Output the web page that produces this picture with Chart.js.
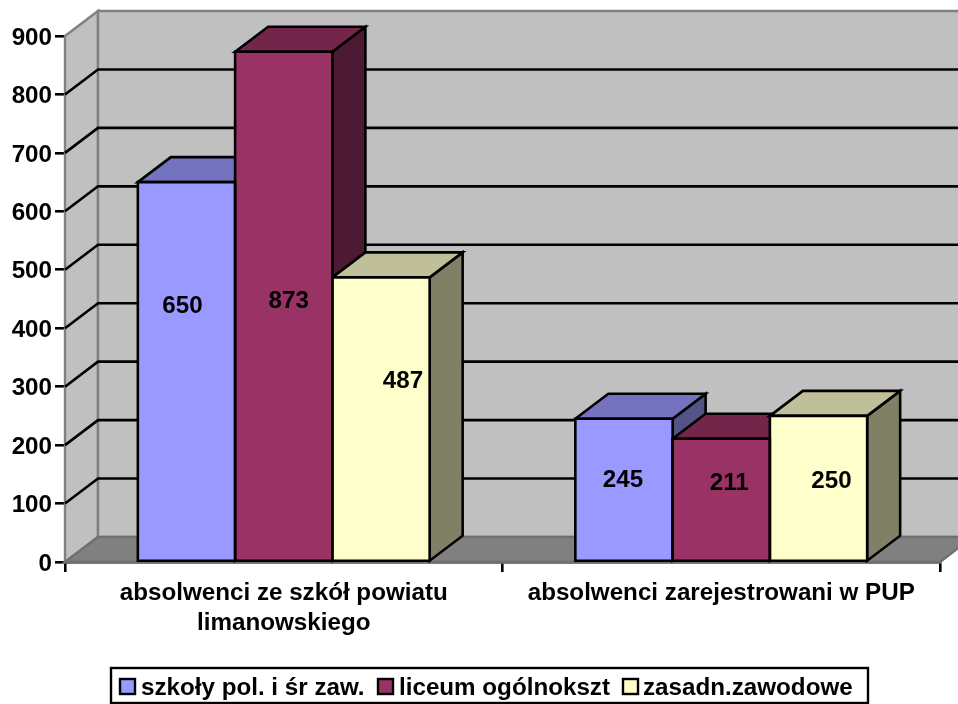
<!DOCTYPE html>
<html><head><meta charset="utf-8">
<style>html,body{margin:0;padding:0;background:#fff}#w{width:958px;height:704px;position:relative}</style>
<script src="https://cdn.jsdelivr.net/npm/chart.js@4"></script>
</head><body><div id="w"><canvas id="c" width="958" height="704"></canvas></div>
<script>
const categories = [["absolwenci ze szkół powiatu","limanowskiego"], "absolwenci zarejestrowani w PUP"];
const seriesNames = ["szkoły pol. i śr zaw.", "liceum ogólnokszt", "zasadn.zawodowe"];
const szkolyPol = [650, 245];
const liceum = [873, 211];
const zasadn = [487, 250];
const frontColors = ["#9999FF", "#993366", "#FFFFCC"];
const topColors = ["#7373BF", "#732649", "#BFBF99"];
const sideColors = ["#535385", "#4D1A33", "#808066"];
const labelOffsets = [[[-4, -65], [5, -5], [22, -38]], [[-1, -9], [8, -16], [13, -7]]];
const DX = 33, DY = -25, LINE = 2.6;
const FAMILY = '"Liberation Sans", Arial, sans-serif';
const SIZE = 24.2;
const FONT = 'bold ' + SIZE + 'px ' + FAMILY;

function poly(ctx, pts, fill, stroke, w) {
  ctx.beginPath();
  pts.forEach((p, i) => i ? ctx.lineTo(p[0], p[1]) : ctx.moveTo(p[0], p[1]));
  ctx.closePath();
  if (fill) { ctx.fillStyle = fill; ctx.fill(); }
  if (stroke) { ctx.strokeStyle = stroke; ctx.lineWidth = w; ctx.lineJoin = 'miter'; ctx.stroke(); }
}

const walls = {
  id: 'walls',
  beforeDatasetsDraw(chart) {
    const { ctx, chartArea: a, scales } = chart;
    const y = scales.y;
    ctx.save();
    poly(ctx, [[a.left, a.top], [a.left + DX, a.top + DY], [a.left + DX, a.bottom + DY], [a.left, a.bottom]], '#C0C0C0', '#808080', 2.4);
    poly(ctx, [[a.left + DX, a.top + DY], [a.right + DX, a.top + DY], [a.right + DX, a.bottom + DY], [a.left + DX, a.bottom + DY]], '#C0C0C0', '#808080', 2.4);
    poly(ctx, [[a.left, a.bottom], [a.left + DX, a.bottom + DY], [a.right + DX, a.bottom + DY], [a.right, a.bottom]], '#808080', '#707070', 2.4);
    ctx.strokeStyle = '#000'; ctx.lineWidth = LINE;
    y.ticks.forEach(t => {
      if (t.value === 0 || t.value === y.max) return;
      const py = y.getPixelForValue(t.value);
      ctx.beginPath();
      ctx.moveTo(a.left, py); ctx.lineTo(a.left + DX, py + DY); ctx.lineTo(a.right + DX, py + DY);
      ctx.stroke();
    });
    // side and top faces, painted left to right; the library then paints the fronts
    chart.data.labels.forEach((_, j) => {
      chart.data.datasets.forEach((ds, i) => {
        const p = chart.getDatasetMeta(i).data[j].getProps(['x', 'y', 'base', 'width'], true);
        const l = p.x - p.width / 2, r = p.x + p.width / 2;
        poly(ctx, [[r, p.y], [r + DX, p.y + DY], [r + DX, p.base + DY], [r, p.base]], sideColors[i], '#000', LINE);
        poly(ctx, [[l, p.y], [l + DX, p.y + DY], [r + DX, p.y + DY], [r, p.y]], topColors[i], '#000', LINE);
      });
    });
    ctx.restore();
  },
  afterDatasetsDraw(chart) {
    const { ctx } = chart;
    ctx.save();
    chart.data.datasets.forEach((ds, i) => {
      chart.getDatasetMeta(i).data.forEach(b => {
        const p = b.getProps(['x', 'y', 'base', 'width'], true);
        const l = p.x - p.width / 2, r = p.x + p.width / 2;
        poly(ctx, [[l, p.y], [r, p.y], [r, p.base], [l, p.base]], null, '#000', LINE);
      });
    });
    ctx.restore();
  },
  afterDraw(chart) {
    const { ctx } = chart;
    ctx.save();
    ctx.font = FONT; ctx.fillStyle = '#000';
    ctx.textAlign = 'center'; ctx.textBaseline = 'middle';
    chart.data.datasets.forEach((ds, i) => {
      chart.getDatasetMeta(i).data.forEach((b, j) => {
        const off = labelOffsets[j][i];
        ctx.fillText(String(ds.data[j]), b.x + off[0], (b.y + b.base) / 2 + off[1]);
      });
    });
    // legend
    ctx.strokeStyle = '#000'; ctx.lineWidth = 2.4;
    ctx.strokeRect(111, 668, 757, 35);
    const boxX = [120, 378, 623], textX = [141, 399, 643];
    seriesNames.forEach((n, i) => {
      ctx.fillStyle = frontColors[i];
      ctx.fillRect(boxX[i], 679, 15, 15);
      ctx.strokeRect(boxX[i], 679, 15, 15);
      ctx.fillStyle = '#000'; ctx.textAlign = 'left';
      ctx.fillText(n, textX[i], 688);
    });
    ctx.restore();
  }
};

new Chart(document.getElementById('c'), {
  type: 'bar',
  data: {
    labels: categories,
    datasets: [
      { label: seriesNames[0], data: szkolyPol, backgroundColor: frontColors[0] },
      { label: seriesNames[1], data: liceum, backgroundColor: frontColors[1] },
      { label: seriesNames[2], data: zasadn, backgroundColor: frontColors[2] }
    ]
  },
  options: {
    responsive: false, animation: false,
    layout: { padding: { top: 36, right: 18, left: 0, bottom: 0 } },
    datasets: { bar: { categoryPercentage: 0.667, barPercentage: 1, borderWidth: 0 } },
    plugins: { legend: { display: false }, tooltip: { enabled: false }, title: { display: false } },
    scales: {
      x: {
        afterFit(s) { s.height = 142; },
        grid: { offset: true, drawOnChartArea: false, color: '#000', lineWidth: LINE, tickLength: 10, tickColor: '#000', tickWidth: LINE },
        border: { color: '#000', width: LINE },
        ticks: { color: '#000', font: { family: FAMILY, size: SIZE, weight: 'bold', lineHeight: 1.24 }, padding: 6, maxRotation: 0, autoSkip: false }
      },
      y: {
        min: 0, max: 900,
        afterFit(s) { s.width = 65; },
        grid: { drawOnChartArea: false, color: '#000', lineWidth: LINE, tickLength: 10, tickColor: '#000', tickWidth: LINE },
        border: { color: '#000', width: LINE },
        ticks: { stepSize: 100, color: '#000', font: { family: FAMILY, size: SIZE, weight: 'bold' }, padding: 3, labelOffset: 2 }
      }
    }
  },
  plugins: [walls]
});
</script></body></html>
